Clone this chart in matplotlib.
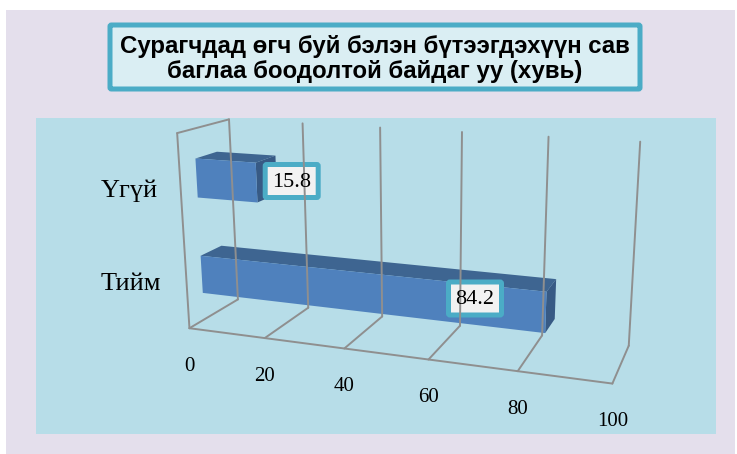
import numpy as np
import matplotlib
matplotlib.use('Agg')
import matplotlib.pyplot as plt
from matplotlib.patches import Rectangle, Polygon, FancyBboxPatch

# Data
categories = ['Үгүй', 'Тийм']
values = [15.8, 84.2]
ticks = [0, 20, 40, 60, 80, 100]
title_lines = ['Сурагчдад өгч буй бэлэн бүтээгдэхүүн сав', 'баглаа боодолтой байдаг уу (хувь)']

# Colours
lavender = '#E4DFEC'
panel = '#B7DDE8'
title_fill = '#DAEEF3'
border = '#4BACC6'
label_fill = '#F2F2F2'
grid = '#8F8F8F'
bar_front = '#4F81BD'
bar_top = '#3E6591'
bar_side = '#375A85'

# Where the 3D box sits in the image: (value, depth, height) -> pixel, used to fit the projection
cal_world = [(0, 0, 0), (20, 0, 0), (40, 0, 0), (60, 0, 0), (80, 0, 0), (100, 0, 0),
             (0, 1, 0), (20, 1, 0), (40, 1, 0), (60, 1, 0), (80, 1, 0), (100, 1, 0),
             (0, 0, 1), (0, 1, 1), (20, 1, 1), (40, 1, 1), (60, 1, 1), (80, 1, 1), (100, 1, 1)]
cal_pixel = [(188.3, 328.3), (265, 338.3), (345, 348.3), (430, 359.5), (517, 370.7), (611.7, 384),
             (238.3, 298.3), (308.3, 309), (381.7, 316.7), (460, 326), (542, 333), (629, 347.3),
             (177.3, 133), (229.3, 120), (302.3, 123.3), (380, 127.3), (461.7, 131.7), (548.3, 136.7), (640.7, 141.7)]

# Fit a 3x4 projective camera (DLT)
rows = []
for (v, d, h), (px, py) in zip(cal_world, cal_pixel):
    w = [v / 100, d, h, 1]
    rows.append(w + [0, 0, 0, 0] + [-px * c for c in w])
    rows.append([0, 0, 0, 0] + w + [-py * c for c in w])
cam = np.linalg.svd(np.array(rows))[2][-1].reshape(3, 4)


def proj(v, d, h):
    p = cam @ np.array([v / 100, d, h, 1])
    return p[0] / p[2], p[1] / p[2]


def rounded_box(cx, cy, w, h, fill, lw):
    ax.add_patch(FancyBboxPatch((cx - w / 2, cy - h / 2), w, h, boxstyle='round,pad=0,rounding_size=1.5',
                                fc=fill, ec=border, lw=lw))


fig = plt.figure(figsize=(7.37, 4.54), dpi=100, facecolor='white')
ax = fig.add_axes([0, 0, 1, 1])
ax.set_xlim(0, 737)
ax.set_ylim(454, 0)
ax.axis('off')

ax.add_patch(Rectangle((6, 10), 729, 444, fc=lavender, ec='none'))
ax.add_patch(Rectangle((36.5, 118), 680, 316, fc=panel, ec='none'))

# Title box
rounded_box(375, 57, 530, 64, title_fill, 3.6)
ax.text(374.5, 46, title_lines[0], ha='center', va='center', fontsize=17.3,
        fontweight='bold', family='Liberation Sans', color='black')
ax.text(374.5, 71.5, title_lines[1], ha='center', va='center', fontsize=17.3,
        fontweight='bold', family='Liberation Sans', color='black')


def line(a, b):
    p, q = proj(*a), proj(*b)
    ax.plot([p[0], q[0]], [p[1], q[1]], color=grid, lw=1.4, solid_capstyle='round')


# Walls and floor
line((0, 0, 0), (100, 0, 0))
line((0, 0, 0), (0, 0, 1))
line((0, 0, 1), (0, 1, 1))
for t in ticks:
    line((t, 0, 0), (t, 1, 0))
    line((t, 1, 0), (t, 1, 1))
    x, y = proj(t, 0, 0)
    ax.text(x, y + 38, str(t), ha='center', va='center', fontsize=15,
            family='Liberation Serif', color='black')

# Bars, in depth/height slots of the 3D box
bar_depth = [(0.30, 0.72), (0.29, 0.71)]
bar_height = [(0.65, 0.85), (0.145, 0.345)]
for val, (d0, d1), (h0, h1) in zip(values, bar_depth, bar_height):
    top = [proj(0, d0, h1), proj(val, d0, h1), proj(val, d1, h1), proj(0, d1, h1)]
    side = [proj(val, d0, h0), proj(val, d1, h0), proj(val, d1, h1), proj(val, d0, h1)]
    front = [proj(0, d0, h0), proj(val, d0, h0), proj(val, d0, h1), proj(0, d0, h1)]
    ax.add_patch(Polygon(top, fc=bar_top, ec='none'))
    ax.add_patch(Polygon(side, fc=bar_side, ec='none'))
    ax.add_patch(Polygon(front, fc=bar_front, ec='none'))

# Value labels
label_pos = [(291.7, 181), (475, 298.5)]
for val, (cx, cy) in zip(values, label_pos):
    rounded_box(cx, cy, 53, 33, label_fill, 3.6)
    ax.text(cx, cy + 1.5, f'{val:.1f}', ha='center', va='center', fontsize=16,
            family='Liberation Serif', color='black')

# Category labels
cat_pos = [(129, 190.5), (131, 283.5)]
for name, (cx, cy) in zip(categories, cat_pos):
    ax.text(cx, cy, name, ha='center', va='center', fontsize=19,
            family='Liberation Serif', color='black')

fig.savefig('out.png', dpi=100)
